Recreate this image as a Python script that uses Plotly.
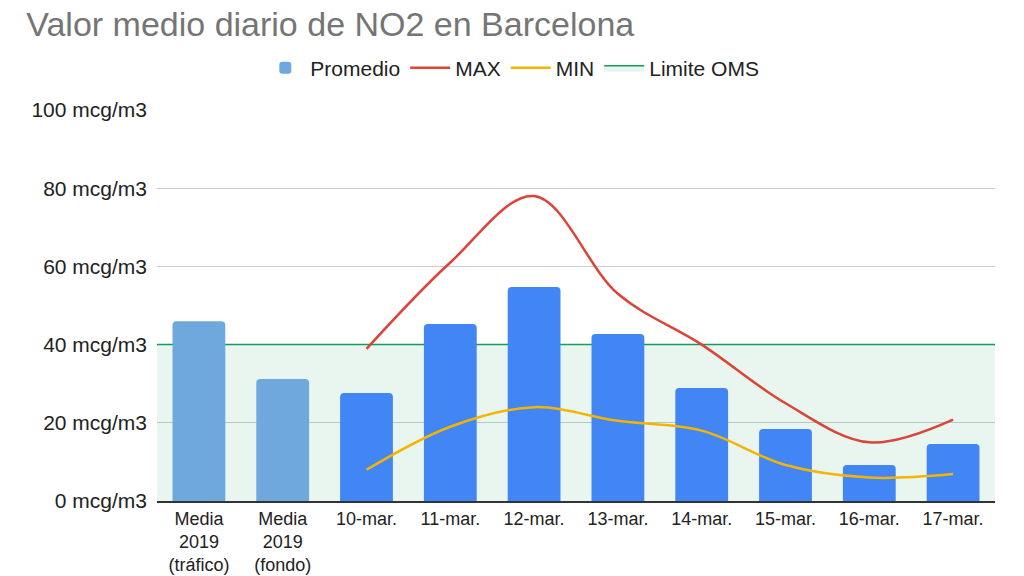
import plotly.graph_objects as go

# Datos
categorias = ["Media<br>2019<br>(tráfico)", "Media<br>2019<br>(fondo)", "10-mar.", "11-mar.",
              "12-mar.", "13-mar.", "14-mar.", "15-mar.", "16-mar.", "17-mar."]
promedio = [46, 31.2, 27.6, 45.3, 54.7, 42.7, 28.9, 18.4, 9.2, 14.6]
dias = categorias[2:]
maximo = [38.9, 61, 78, 53, 40, 25, 15, 20.8]
minimo = [8, 19, 24, 20.5, 18, 9.2, 6, 6.9]
limite_oms = 40

colores_barras = ["#6fa8dc", "#6fa8dc"] + ["#4285f4"] * 8

fig = go.Figure()

# banda del límite OMS en el eje x de fondo (numérico), así queda detrás de las barras
fig.add_trace(go.Scatter(
    x=[0, 1], y=[limite_oms, limite_oms], xaxis="x",
    mode="lines", fill="tozeroy", name="Limite OMS", legendrank=4,
    line=dict(color="#0f9d58", width=1.5),
    fillcolor="rgba(15,157,88,0.09)",
))

# barras y líneas en el eje de categorías superpuesto
fig.add_trace(go.Bar(
    x=categorias, y=promedio, name="Promedio", legendrank=1, xaxis="x2",
    marker=dict(color=colores_barras, line_width=0),
))
fig.add_trace(go.Scatter(
    x=dias, y=maximo, name="MAX", mode="lines", legendrank=2, xaxis="x2",
    line=dict(color="#db4437", width=2.5, shape="spline", smoothing=1),
))
fig.add_trace(go.Scatter(
    x=dias, y=minimo, name="MIN", mode="lines", legendrank=3, xaxis="x2",
    line=dict(color="#f4b400", width=2.5, shape="spline", smoothing=1),
))

# la página añade 8 px de margen, por eso la figura es algo menor que la ventana
fig.update_layout(
    width=1016, height=568,
    paper_bgcolor="white", plot_bgcolor="white",
    font=dict(family="Liberation Sans, Arial", size=18, color="#222"),
    title=dict(text="Valor medio diario de NO2 en Barcelona", x=0.018, y=0.992,
               xanchor="left", yanchor="top", pad=dict(t=0, b=0),
               font=dict(size=34, color="#757575")),
    legend=dict(orientation="h", x=0.424, xanchor="center",
                y=1.107, yanchor="middle",
                font=dict(size=21, color="#222"), itemwidth=40),
    margin=dict(l=149, r=29, t=102, b=75),
    bargap=0.37,
    barcornerradius=4,
    xaxis=dict(range=[0, 1], visible=False, automargin=False),
    xaxis2=dict(overlaying="x", anchor="y", side="bottom",
                showgrid=False, showline=True, linecolor="#333", linewidth=2,
                ticks="", tickfont=dict(size=18, color="#222"), automargin=False,
                categoryorder="array", categoryarray=categorias),
    yaxis=dict(range=[0, 100], dtick=20, ticksuffix=" mcg/m3",
               gridcolor="#cccccc", zeroline=False, ticklabelstandoff=9,
               automargin=False, tickfont=dict(size=21, color="#222")),
)

fig.write_html("out.html")
